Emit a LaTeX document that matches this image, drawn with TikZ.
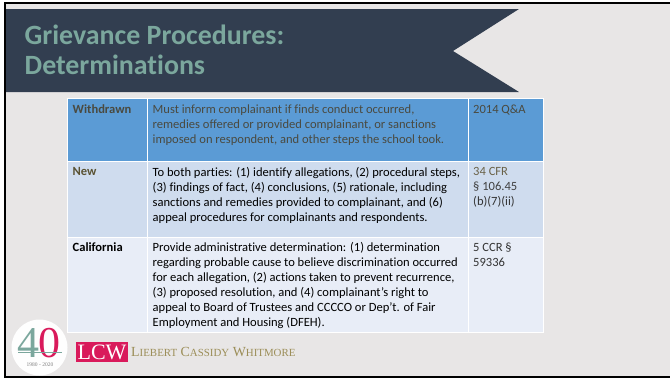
\documentclass[tikz,border=0pt]{standalone}
\usepackage{fontspec}
\setmainfont[Ligatures=NoCommon]{Carlito}
\newfontfamily\serifface{Liberation Serif}
\definecolor{pagebg}{HTML}{E8E6E6}
\definecolor{banner}{HTML}{323E50}
\definecolor{titlecol}{HTML}{7BA79D}
\definecolor{rowa}{HTML}{5B9BD5}
\definecolor{rowb}{HTML}{CFDCEE}
\definecolor{rowc}{HTML}{E8EDF7}
\definecolor{dimtext}{HTML}{4A4A40}
\definecolor{newlab}{HTML}{5A5232}
\definecolor{cfrcol}{HTML}{6A6248}
\definecolor{lcwpink}{HTML}{D91A5B}
\definecolor{lcwtan}{HTML}{9C8E58}
\tikzset{
  cellbox/.style={draw=white,line width=1pt},
  celltext/.style={anchor=north west,inner sep=0pt,align=left,font=\fontsize{12.55}{15}\selectfont,text=black},
  headtext/.style={celltext,font=\fontsize{12.55}{15}\selectfont\bfseries},
  dim/.style={text=dimtext}
}
\begin{document}
\begin{tikzpicture}[x=1pt,y=-1pt]
\useasboundingbox (0,0) rectangle (670,381);
\fill[white] (0,0) rectangle (670,381);
\fill[pagebg] (5,3) rectangle (670,377);
\draw[black,line width=2pt] (670,3) -- (5,3) -- (5,377) -- (670,377);
% banner
\fill[banner] (6,9) -- (519,9) -- (453,51) -- (519,92) -- (6,92) -- cycle;
\node[anchor=base west,inner sep=0pt,text=titlecol,font=\fontsize{27.9}{30}\selectfont\bfseries] (title1) at (24.5,44) {Grievance Procedures:};
\node[anchor=base west,inner sep=0pt,text=titlecol,font=\fontsize{27.9}{30}\selectfont\bfseries] (title2) at (24.5,74) {Determinations};
% table
\foreach \xa/\xb in {67/147,147/468,468/543}{
  \filldraw[cellbox,fill=rowa] (\xa,98.5) rectangle (\xb,161.5);
  \filldraw[cellbox,fill=rowb] (\xa,161.5) rectangle (\xb,237);
  \filldraw[cellbox,fill=rowc] (\xa,237) rectangle (\xb,332.5);
}
\node[headtext,text=dimtext] (w1) at (72.5,104.5) {Withdrawn};
\node[celltext,dim] (w2) at (152.5,104.5) {Must inform complainant if finds conduct occurred,\\remedies offered or provided complainant, or sanctions\\imposed on respondent, and other steps the school took.};
\node[celltext,dim] (w3) at (473,104.5) {2014 Q\&A};
\node[headtext,text=newlab] (n1) at (72.5,167.5) {New};
\node[celltext] (n2) at (152.5,167.5) {To both parties: (1) identify allegations, (2) procedural steps,\\(3) findings of fact, (4) conclusions, (5) rationale, including\\sanctions and remedies provided to complainant, and (6)\\appeal procedures for complainants and respondents.};
\node[celltext,text=cfrcol] (n3) at (473,167.5) {34 CFR\\{\color{black!75}§ 106.45}\\{\color{black!80}(b)(7)(ii)}};
\node[headtext] (c1) at (72.5,242.5) {California};
\node[celltext] (c2) at (152.5,242.5) {Provide administrative determination: (1) determination\\regarding probable cause to believe discrimination occurred\\for each allegation, (2) actions taken to prevent recurrence,\\(3) proposed resolution, and (4) complainant's right to\\appeal to Board of Trustees and CCCCO or Dep’t. of Fair\\Employment and Housing (DFEH).};
\node[celltext,text=black!80] (c3) at (473,242.5) {5 CCR §\\59336};
% logo
\fill[white!97!pagebg] (39.5,347.5) circle (28);
\node[anchor=base,inner sep=0pt,text=titlecol,text height=30pt,text depth=0pt,font=\serifface\fontsize{44}{44}\selectfont] (four) at (28,357) {4};
\node[anchor=base,inner sep=0pt,text=lcwpink,text height=30pt,text depth=0pt,font=\serifface\fontsize{44}{44}\selectfont] (zero) at (49,357) {0};
\draw[titlecol,line width=0.6pt] (18,352) -- (62,352);
\node[anchor=base,inner sep=0pt,text=black!50,font=\serifface\fontsize{5.5}{5.5}\selectfont] (years) at (40,366) {1980 - 2020};
\node[anchor=center,fill=lcwpink,text=white,minimum width=52.5pt,minimum height=20pt,inner sep=0pt,font=\serifface\fontsize{22}{22}\selectfont] (lcw) at (102,352) {LCW};
\node[anchor=base west,inner sep=0pt,text=lcwtan,font=\serifface\fontsize{13.9}{12}\selectfont] (firm) at (131,356) {L{\fontsize{10.9}{12}\selectfont IEBERT} C{\fontsize{10.9}{12}\selectfont ASSIDY} W{\fontsize{10.9}{12}\selectfont HITMORE}};
\end{tikzpicture}
\end{document}
